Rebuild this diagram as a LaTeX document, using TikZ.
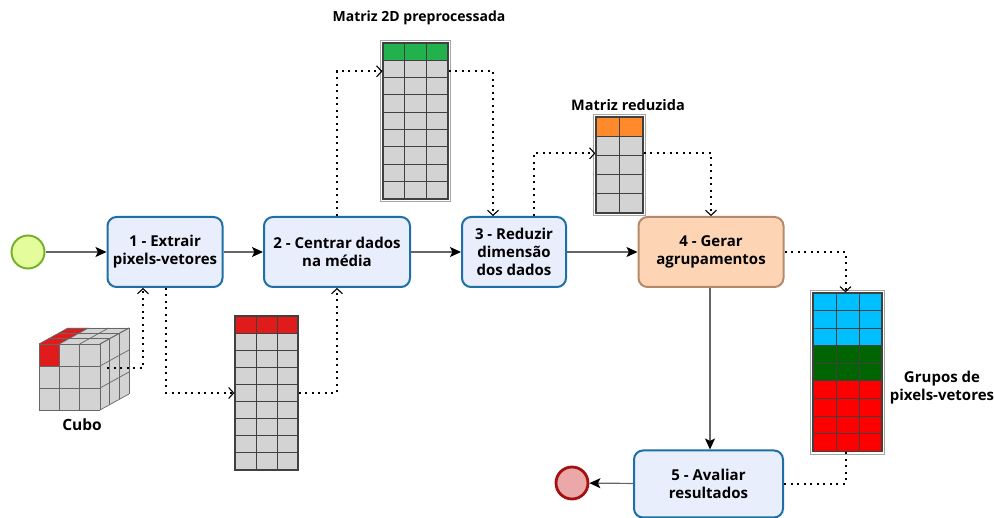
\documentclass[tikz,border=0pt]{standalone}
\usepackage{fontspec}
\setmainfont{Open Sans}
\usetikzlibrary{arrows.meta,calc}
\definecolor{boxfill}{HTML}{E8EEFB}
\definecolor{boxdraw}{HTML}{1E6FA5}
\definecolor{orfill}{HTML}{FDD5B5}
\definecolor{ordraw}{HTML}{B58A6B}
\definecolor{startfill}{HTML}{E4FC9C}
\definecolor{startdraw}{HTML}{77B22E}
\definecolor{endfill}{HTML}{EBA8A8}
\definecolor{enddraw}{HTML}{A51010}
\definecolor{cellgray}{HTML}{D3D3D3}
\definecolor{gridc}{HTML}{404040}
\definecolor{mred}{HTML}{E01B1B}
\definecolor{mgreen}{HTML}{22B14C}
\definecolor{morange}{HTML}{FF8A2B}
\definecolor{gblue}{HTML}{00BFFF}
\definecolor{ggreen}{HTML}{006400}
\definecolor{gred}{HTML}{FF0000}
\definecolor{solidc}{HTML}{666666}
\tikzset{
  proc/.style={draw=boxdraw, fill=boxfill, line width=2pt, rounded corners=9pt,
    align=center, font=\fontsize{15}{18}\selectfont\bfseries, inner sep=0pt},
  proco/.style={proc, draw=ordraw, fill=orfill},
  startev/.style={circle, draw=startdraw, fill=startfill, line width=2pt, minimum size=33pt, inner sep=0pt},
  endev/.style={circle, draw=enddraw, fill=endfill, line width=2.8pt, minimum size=32pt, inner sep=0pt},
  flow/.style={draw=solidc, line width=1.2pt, -{Stealth[length=11pt,width=10pt,inset=2.5pt,color=black]}},
  dotconn/.style={draw=black, line width=2pt, dash pattern=on 2pt off 4.5pt},
  dotarrow/.style={dotconn, -{Straight Barb[length=5pt,width=11pt,line width=1.1pt]}},
  matframe/.style={draw=gridc, line width=1.3pt, inner sep=0pt, fill=none},
  lbl/.style={font=\fontsize{14}{18}\selectfont\bfseries, align=center, inner sep=0pt},
  cubeline/.style={draw=gridc!80, line width=0.7pt}
}
% #1 xleft, #2 ytop, #3 ncols, #4 cell width, #5 cell height, #6 row colours
\newcommand{\matcells}[6]{%
  \foreach \cc [count=\rr from 0] in {#6} {
    \fill[\cc] (#1,{#2+\rr*#5}) rectangle ++({#3*#4},#5);
    \xdef\nrows{\rr}
  }%
  \pgfmathsetmacro{\ntot}{\nrows+1}
  \foreach \rr in {1,...,\nrows} {
    \draw[gridc, line width=1pt] (#1,{#2+\rr*#5}) -- ++({#3*#4},0);
  }
  \foreach \kk in {1,...,#3} {
    \draw[gridc, line width=1pt] ({#1+\kk*#4},#2) -- ++(0,{\ntot*#5});
  }%
}
\newcommand{\outerframe}[1]{%
  \draw[gray!70, line width=0.9pt] ($(#1.north west)+(-2,-2)$) rectangle ($(#1.south east)+(2,2)$);%
}
\begin{document}
\begin{tikzpicture}[x=1pt,y=-1pt]
\useasboundingbox (0,0) rectangle (994,518);

% process boxes
\node[proc, minimum width=115pt, minimum height=70pt] (b1) at (165,252) {1 - Extrair\\pixels-vetores};
\node[proc, minimum width=146pt, minimum height=70pt] (b2) at (337,252) {2 - Centrar dados\\na média};
\node[proc, minimum width=104pt, minimum height=70pt] (b3) at (514,252) {3 - Reduzir\\dimensão\\dos dados};
\node[proco, minimum width=145pt, minimum height=70pt] (b4) at (711,252) {4 - Gerar\\agrupamentos};
\node[proc, minimum width=149pt, minimum height=67pt] (b5) at (708.5,484) {5 - Avaliar\\resultados};

% events
\node[startev] (s) at (28,252) {};
\node[endev] (e) at (572,483) {};

% cube
\begin{scope}
  \def\dx{29}\def\dy{-16}
  % front face
  \fill[cellgray] (39,344) rectangle (100,410);
  \fill[mred] (39,344) rectangle ({39+61/3},{344+22});
  % top face
  \fill[cellgray] (39,344) -- (100,344) -- ++(\dx,\dy) -- ({39+\dx},{344+\dy}) -- cycle;
  \fill[mred] (39,344) -- ({39+61/3},344) -- ++(\dx,\dy) -- ({39+\dx},{344+\dy}) -- cycle;
  % right face
  \fill[cellgray] (100,344) -- ++(\dx,\dy) -- ({100+\dx},{410+\dy}) -- (100,410) -- cycle;
  % grid lines front
  \foreach \i in {0,1,2,3} {
    \draw[cubeline] ({39+\i*61/3},344) -- ({39+\i*61/3},410);
    \draw[cubeline] (39,{344+\i*22}) -- (100,{344+\i*22});
  }
  % top grid
  \foreach \i in {0,1,2,3} {
    \draw[cubeline] ({39+\i*61/3},344) -- ++(\dx,\dy);
    \draw[cubeline] ({39+\i*\dx/3},{344+\i*\dy/3}) -- ++(61,0);
  }
  % right grid
  \foreach \i in {0,1,2,3} {
    \draw[cubeline] ({100+\i*\dx/3},{344+\i*\dy/3}) -- ++(0,66);
    \draw[cubeline] (100,{344+\i*22}) -- ++(\dx,\dy);
  }
\end{scope}
\coordinate (cubo) at (107,368);
\node[lbl, font=\fontsize{15.5}{18}\selectfont\bfseries] (lcubo) at (82,425) {Cubo};

% matrix 1 (below)
\matcells{235}{316}{3}{21}{17.11}{mred,cellgray,cellgray,cellgray,cellgray,cellgray,cellgray,cellgray,cellgray}
\node[matframe, minimum width=63pt, minimum height=154pt] (m1) at (266.5,393) {};

% matrix 2 (preprocessed)
\matcells{383}{43}{3}{21.67}{17.33}{mgreen,cellgray,cellgray,cellgray,cellgray,cellgray,cellgray,cellgray,cellgray}
\node[matframe, minimum width=65pt, minimum height=156pt] (m2) at (415.5,121) {};
\outerframe{m2}
\node[lbl] (lm2) at (419,18) {Matriz 2D preprocessada};

% matrix 3 (reduced)
\matcells{596}{117}{2}{23.5}{19.2}{morange,cellgray,cellgray,cellgray,cellgray}
\node[matframe, minimum width=47pt, minimum height=96pt] (m3) at (619.5,165) {};
\outerframe{m3}
\node[lbl, font=\fontsize{14.5}{18}\selectfont\bfseries] (lm3) at (628,105) {Matriz reduzida};

% matrix 4 (groups)
\matcells{813}{293}{3}{23}{17.6}{gblue,gblue,gblue,ggreen,ggreen,gred,gred,gred,gred}
\node[matframe, minimum width=69pt, minimum height=158.4pt] (m4) at (847.5,372.2) {};
\outerframe{m4}
\node[lbl, font=\fontsize{15}{18}\selectfont\bfseries] (lm4) at (942,388) {Grupos de\\pixels-vetores};

% solid flows
\draw[flow] (s) -- (b1);
\draw[flow] (b1) -- (b2);
\draw[flow] (b2) -- (b3);
\draw[flow] (b3) -- (b4);
\draw[flow] ([xshift=-1pt]b4.south) -- ([xshift=-1pt]b4.south |- b5.north);
\draw[flow] (b5) -- (e);

% dotted data flows
\draw[dotarrow] (cubo) -| ([xshift=-22pt]b1.south);
\draw[dotarrow] ([xshift=1pt]b1.south) |- (m1.west);
\draw[dotarrow] (m1.east) -| (b2.south);
\draw[dotarrow] (b2.north) |- ($(m2.north west)+(0,29)$);
\draw[dotarrow] ($(m2.north east)+(0,29)$) -| ([xshift=-21pt]b3.north);
\draw[dotarrow] ([xshift=20pt]b3.north) |- ($(m3.north west)+(0,37)$);
\draw[dotarrow] ($(m3.north east)+(0,37)$) -| (b4.north);
\draw[dotarrow] (b4.east) -| ([xshift=-2pt]m4.north);
\draw[dotconn] ([xshift=-2pt]m4.south) |- (b5.east);
\end{tikzpicture}
\end{document}
